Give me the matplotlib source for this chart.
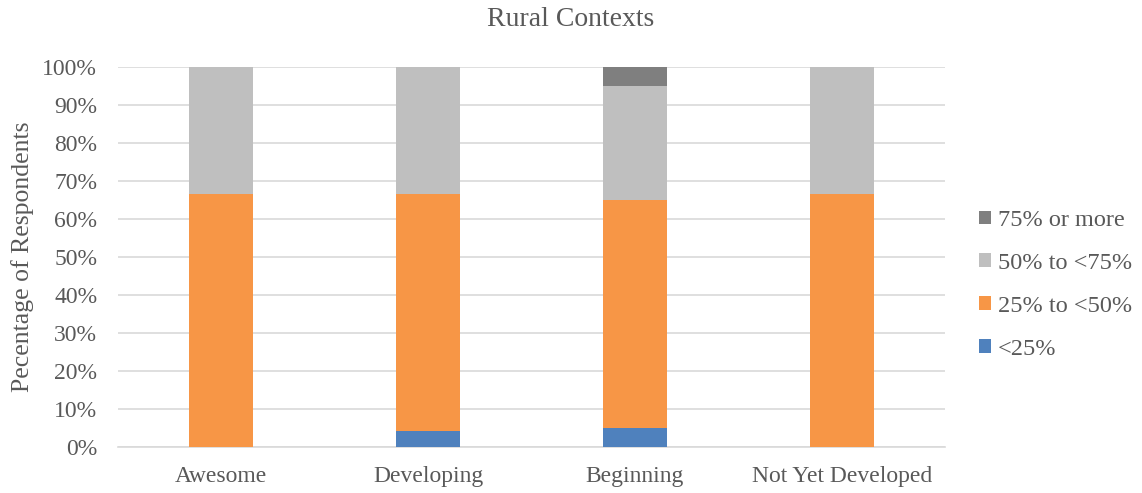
import numpy as np
import matplotlib.pyplot as plt
from matplotlib.ticker import PercentFormatter

plt.rcParams['font.family'] = ['Liberation Serif', 'DejaVu Serif']

categories = ['Awesome', 'Developing', 'Beginning', 'Not Yet Developed']
series_names = ['<25%', '25% to <50%', '50% to <75%', '75% or more']
under_25 = [0.0, 4.17, 5.0, 0.0]
from_25_to_50 = [66.67, 62.5, 60.0, 66.67]
from_50_to_75 = [33.33, 33.33, 30.0, 33.33]
over_75 = [0.0, 0.0, 5.0, 0.0]
colors = ['#4f81bd', '#f79646', '#bfbfbf', '#7f7f7f']

fig = plt.figure(figsize=(11.42, 4.93), dpi=100)
ax = fig.add_axes([0.1033, 0.0933, 0.7242, 0.7707])

x = np.arange(len(categories))
bottom = np.zeros(len(categories))
handles = []
for name, vals, c in zip(series_names, [under_25, from_25_to_50, from_50_to_75, over_75], colors):
    h = ax.bar(x, vals, 0.31, bottom=bottom, color=c, label=name, zorder=3)
    handles.append(h)
    bottom += np.array(vals)

ax.set_xlim(-0.5, 3.5)
ax.set_ylim(0, 100)
ax.set_yticks(np.arange(0, 101, 10))
ax.yaxis.set_major_formatter(PercentFormatter(decimals=0))
ax.set_xticks(x)
ax.set_xticklabels(categories)
ax.tick_params(axis='both', length=0, labelsize=17, colors='#595959')
ax.tick_params(axis='x', pad=14)
ax.tick_params(axis='y', pad=15)
ax.grid(axis='y', color='#d9d9d9', linewidth=1.2, zorder=0)
for s in ['top', 'right', 'left']:
    ax.spines[s].set_visible(False)
ax.spines['bottom'].set_color('#d9d9d9')
ax.spines['bottom'].set_linewidth(1.2)

ax.set_ylabel('Pecentage of Respondents', fontsize=18.5, color='#595959', labelpad=6)

# title is centred over the whole figure, not the axes
fig.suptitle('Rural Contexts', fontsize=20, color='#595959', x=0.5, y=0.985, va='top')

leg = fig.legend(handles[::-1], series_names[::-1], loc='center left',
                 bbox_to_anchor=(0.857, 0.422), frameon=False, fontsize=17.5,
                 labelcolor='#595959', handlelength=0.5, handleheight=0.5,
                 handletextpad=0.3, labelspacing=0.9, borderpad=0, borderaxespad=0)

fig.savefig('out.png', dpi=100)
